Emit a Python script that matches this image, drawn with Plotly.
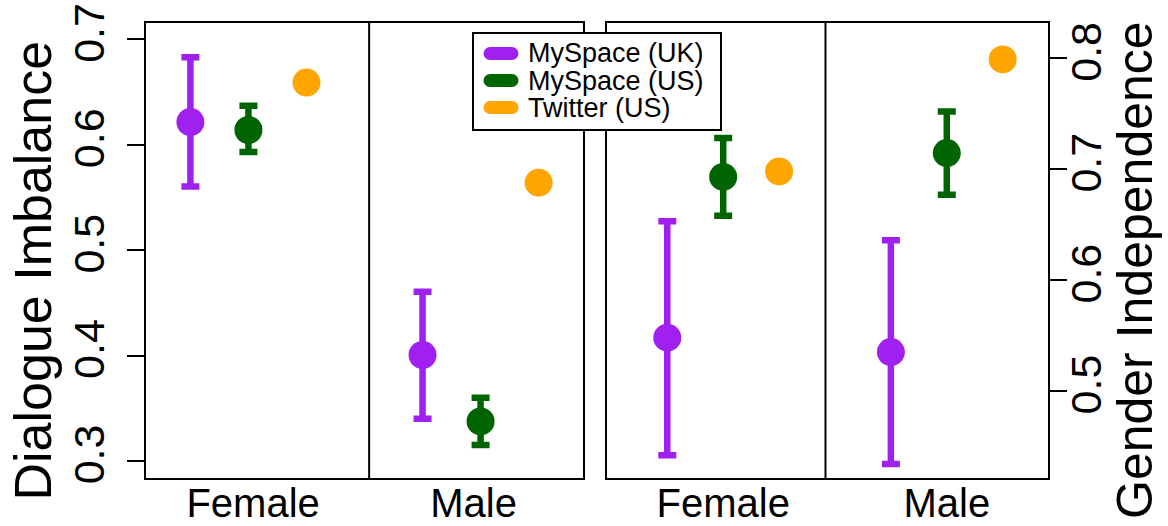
import plotly.graph_objects as go

# ---- data ----
groups = ["Female", "Male"]
series = ["MySpace (UK)", "MySpace (US)", "Twitter (US)"]
colors = ["#A020F0", "#006400", "#FFA500"]

# Dialogue Imbalance (left panel)
di_uk_mean = [0.6215, 0.4005]
di_uk_hi = [0.683, 0.4605]
di_uk_lo = [0.5604, 0.340]
di_us_mean = [0.614, 0.3375]
di_us_hi = [0.637, 0.360]
di_us_lo = [0.593, 0.315]
di_tw_mean = [0.659, 0.564]

# Gender Independence (right panel)
gi_uk_mean = [0.548, 0.535]
gi_uk_hi = [0.653, 0.636]
gi_uk_lo = [0.442, 0.434]
gi_us_mean = [0.693, 0.7145]
gi_us_hi = [0.728, 0.752]
gi_us_lo = [0.658, 0.677]
gi_tw_mean = [0.698, 0.799]

left_ticks = [0.3, 0.4, 0.5, 0.6, 0.7]
right_ticks = [0.5, 0.6, 0.7, 0.8]

FONT = "Liberation Sans, Arial, Helvetica, sans-serif"
W, H = 1168, 526

fig = go.Figure()


def xpos(s):
    return [1 + s + 4 * g for g in range(len(groups))]


def add_series(s, mean, hi, lo, xa, ya):
    kw = {}
    if hi is not None:
        kw["error_y"] = dict(
            type="data", symmetric=False,
            array=[h - m for h, m in zip(hi, mean)],
            arrayminus=[m - l for m, l in zip(mean, lo)],
            color=colors[s], thickness=6.5, width=9,
        )
    fig.add_trace(go.Scatter(
        x=xpos(s), y=mean, mode="markers", xaxis=xa, yaxis=ya,
        marker=dict(size=28, color=colors[s], line=dict(width=0)),
        showlegend=False, hoverinfo="skip", **kw))


add_series(0, di_uk_mean, di_uk_hi, di_uk_lo, "x", "y")
add_series(1, di_us_mean, di_us_hi, di_us_lo, "x", "y")
add_series(2, di_tw_mean, None, None, "x", "y")
add_series(0, gi_uk_mean, gi_uk_hi, gi_uk_lo, "x2", "y2")
add_series(1, gi_us_mean, gi_us_hi, gi_us_lo, "x2", "y2")
add_series(2, gi_tw_mean, None, None, "x2", "y2")

axis_common = dict(showline=True, mirror=True, linecolor="black", linewidth=2,
                   showgrid=False, zeroline=False, automargin=False)


# ---- legend drawn as a boxed key (pixel layout converted to paper units) ----
def px(x):
    return x / W


def py(y):
    return 1 - y / H


shapes = [
    dict(type="line", xref="x", yref="y domain", x0=4.08, x1=4.08, y0=0, y1=1,
         line=dict(color="black", width=2)),
    dict(type="line", xref="x2", yref="y2 domain", x0=3.83, x1=3.83, y0=0, y1=1,
         line=dict(color="black", width=2)),
    dict(type="rect", xref="paper", yref="paper",
         x0=px(473), x1=px(721), y0=py(130), y1=py(33),
         line=dict(color="black", width=2), fillcolor="white", layer="above"),
]
annotations = []
row_y = [53.5, 80.5, 107.5]
for s, name in enumerate(series):
    yy = py(row_y[s])
    shapes.append(dict(type="line", xref="paper", yref="paper",
                       x0=px(490), x1=px(512), y0=yy, y1=yy,
                       line=dict(color=colors[s], width=13), layer="above"))
    for cx in (490, 512):
        shapes.append(dict(type="circle", xref="paper", yref="paper",
                           xsizemode="pixel", ysizemode="pixel",
                           xanchor=px(cx), yanchor=yy,
                           x0=-6.5, x1=6.5, y0=-6.5, y1=6.5,
                           fillcolor=colors[s], line=dict(width=0), layer="above"))
    annotations.append(dict(text=name, xref="paper", yref="paper",
                            x=px(526), y=yy, xanchor="left", yanchor="middle",
                            showarrow=False, font=dict(size=27, family=FONT)))

annotations += [
    dict(text="Dialogue Imbalance", xref="paper", yref="paper",
         x=32.5 / W, y=1 - 271 / H, xanchor="center", yanchor="middle",
         textangle=-90, showarrow=False, font=dict(size=52, family=FONT)),
    dict(text="Gender Independence", xref="paper", yref="paper",
         x=1135 / W, y=1 - 270 / H, xanchor="center", yanchor="middle",
         textangle=-90, showarrow=False, font=dict(size=50, family=FONT)),
]

fig.update_layout(
    width=W, height=H,
    margin=dict(l=0, r=0, t=0, b=0, autoexpand=False),
    paper_bgcolor="white", plot_bgcolor="white",
    font=dict(family=FONT, color="black"),
    showlegend=False,
    xaxis=dict(domain=[145.7 / W, 583.3 / W], range=[0.23, 7.77],
               tickmode="array", tickvals=[2.08, 5.88], ticktext=groups,
               ticks="", tickfont=dict(size=40), ticklabelstandoff=-11,
               anchor="y", **axis_common),
    yaxis=dict(domain=[1 - 478.3 / H, 1 - 22.7 / H], range=[0.2835, 0.7158],
               tickmode="array", tickvals=left_ticks,
               ticktext=[f"{v:.1f}" for v in left_ticks],
               ticks="outside", ticklen=17, tickwidth=2, tickcolor="black",
               tickangle=-90, tickfont=dict(size=43), ticklabelstandoff=6,
               anchor="x", **axis_common),
    xaxis2=dict(domain=[607.3 / W, 1048.3 / W], range=[-0.073, 7.816],
                tickmode="array", tickvals=[2, 6], ticktext=groups,
                ticks="", tickfont=dict(size=40), ticklabelstandoff=-11,
                anchor="y2", **axis_common),
    yaxis2=dict(domain=[1 - 478.3 / H, 1 - 22.7 / H], range=[0.4212, 0.8321],
                side="right",
                tickmode="array", tickvals=right_ticks,
                ticktext=[f"{v:.1f}" for v in right_ticks],
                ticks="outside", ticklen=17, tickwidth=2, tickcolor="black",
                tickangle=-90, tickfont=dict(size=43), ticklabelstandoff=-18,
                anchor="x2", **axis_common),
    shapes=shapes,
    annotations=annotations,
)

# remove the browser's default 8px page margin so the figure sits at (0, 0)
fig.write_html("out.html",
               config={"displayModeBar": False, "staticPlot": True},
               post_script="document.body.style.margin='0px';"
                           "document.body.style.overflow='hidden';")
